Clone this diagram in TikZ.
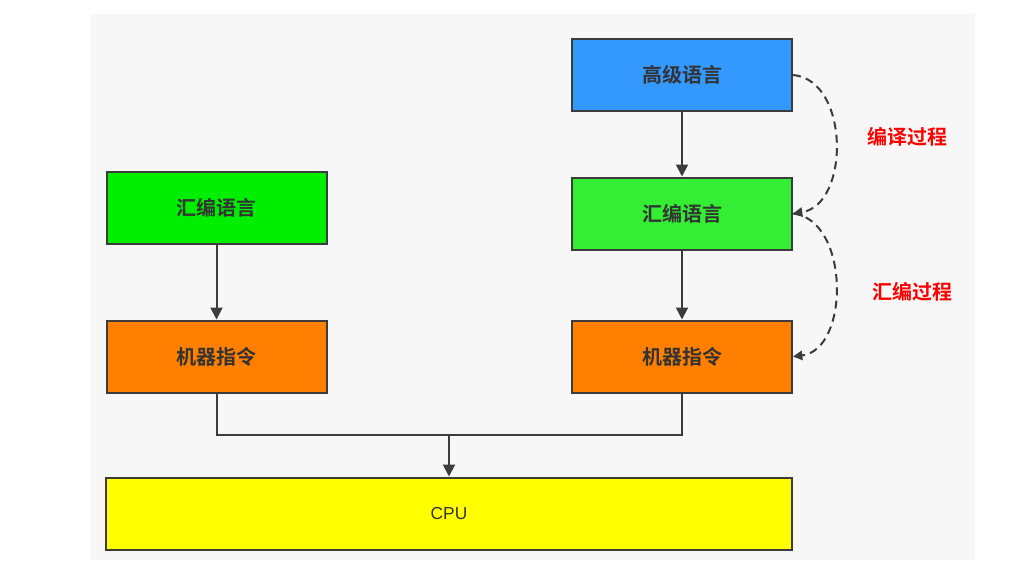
\documentclass[tikz,border=0pt]{standalone}
\usepackage{fontspec}
\setmainfont{Liberation Sans}
\newfontfamily\cjk{Noto Sans CJK SC}[BoldFont=* Bold]
\usetikzlibrary{arrows.meta}
\definecolor{blu}{HTML}{3399FF}
\definecolor{grnA}{HTML}{00EE00}
\definecolor{grnB}{HTML}{33EE33}
\definecolor{org}{HTML}{FF8000}
\definecolor{yel}{HTML}{FFFF00}
\definecolor{txt}{HTML}{333333}
\definecolor{ln}{HTML}{3C3C3C}
\begin{document}
\begin{tikzpicture}[x=0.75pt,y=-0.75pt,
  box/.style={draw=ln,line width=1.5pt,minimum width=165pt,minimum height=54pt,inner sep=0pt,font=\cjk\bfseries\fontsize{15}{17}\selectfont,text=txt},
  arr/.style={draw=ln,line width=1.5pt,-{Triangle[length=9pt,width=9pt]}},
  darr/.style={draw=ln,line width=1.5pt,dashed,dash pattern=on 6pt off 4pt,-{Triangle[length=7pt,width=7pt]}},
  lab/.style={font=\cjk\bfseries\fontsize{15}{17}\selectfont,text=red}]
\useasboundingbox (0,0) rectangle (1010,564);
\fill[white] (0,0) rectangle (1010,564);
\fill[gray!6] (90,14) rectangle (975,560);
\node[box,fill=blu] (hl) at (682,75) {高级语言};
\node[box,fill=grnB] (ar) at (682,213.5) {汇编语言};
\node[box,fill=org] (mr) at (682,356.5) {机器指令};
\node[box,fill=grnA] (al) at (216.5,208) {汇编语言};
\node[box,fill=org] (ml) at (216.5,356.5) {机器指令};
\node[box,fill=yel,minimum width=514pt,font=\fontsize{13}{15}\selectfont] (cpu) at (449,513.5) {CPU};
\coordinate (j) at (449,435);
\draw[arr] (hl) -- (ar);
\draw[arr] (ar) -- (mr);
\draw[arr] (al) -- (ml);
\draw[draw=ln,line width=1.5pt] (ml.south) |- (j) -| (mr.south);
\draw[arr] (j) -- (j |- cpu.north);
\draw[darr] (hl.east) .. controls (850,80) and (850,205) .. (ar.east);
\draw[darr] (ar.east) .. controls (850,220) and (850,350) .. (mr.east);
\node[lab] at (907,137) {编译过程};
\node[lab] at (912,292) {汇编过程};
\end{tikzpicture}
\end{document}
